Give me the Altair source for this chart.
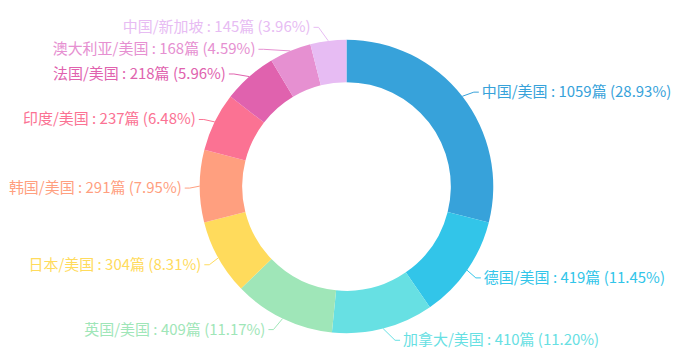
import altair as alt
import pandas as pd

# ---- data ----
names = ["中国/美国", "德国/美国", "加拿大/美国", "英国/美国", "日本/美国",
         "韩国/美国", "印度/美国", "法国/美国", "澳大利亚/美国", "中国/新加坡"]
counts = [1059, 419, 410, 409, 304, 291, 237, 218, 168, 145]
colors = ["#37a2da", "#32c5e9", "#67e0e3", "#9fe6b8", "#ffdb5c",
          "#ff9f7f", "#fb7293", "#e062ae", "#e690d1", "#e7bcf3"]

# ---- layout constants (pixels) ----
W, H = 664, 348
CX, CY = 339, 178.5          # donut centre inside the plot area
R_OUT, R_IN = 147, 104.5
R_A, R_B = 157, 162          # label ellipse
GAP = 22                     # minimum vertical distance between labels
FONT = "Noto Sans CJK SC"
FS = 15

df = pd.DataFrame({"name": names, "value": counts, "idx": list(range(len(names)))})

xs = alt.Scale(domain=[-CX, W - CX])
ys = alt.Scale(domain=[-CY, H - CY], reverse=True)
color = alt.Color("name:N", scale=alt.Scale(domain=names, range=colors), legend=None)

base = alt.Chart(df)

arc = base.mark_arc(innerRadius=R_IN, outerRadius=R_OUT).encode(
    theta=alt.Theta("value:Q", stack=True),
    order=alt.Order("idx:Q"),
    color=color,
    x=alt.XDatum(0, type="quantitative", scale=xs, axis=None),
    y=alt.YDatum(0, type="quantitative", scale=ys, axis=None),
)

lab = (
    base.transform_joinaggregate(total="sum(value)")
    .transform_window(cum="sum(value)", sort=[alt.SortField("idx")], frame=[None, 0])
    .transform_calculate(a="2*PI*(datum.cum - datum.value/2)/datum.total")
    .transform_calculate(pct="format(datum.value/datum.total, '.2%')")
    .transform_calculate(side="sin(datum.a) < 0 ? -1 : 1")
    .transform_calculate(y0=f"-{R_A}*cos(datum.a) + 2")
    .transform_calculate(px1=f"{R_OUT}*sin(datum.a)")
    .transform_calculate(py1=f"-{R_OUT}*cos(datum.a)")
    .transform_calculate(label="datum.name + ' : ' + datum.value + '篇 (' + datum.pct + ')'")
    # push overlapping labels downwards (forward pass)
    .transform_window(rk="row_number()", groupby=["side"], sort=[alt.SortField("y0")])
    .transform_calculate(t=f"datum.y0 - (datum.rk - 1)*{GAP}")
    .transform_window(tmax="max(t)", groupby=["side"], sort=[alt.SortField("y0")], frame=[None, 0])
    .transform_calculate(ydn=f"(datum.rk - 1)*{GAP} + datum.tmax")
    # push overlapping labels upwards (backward pass)
    .transform_window(rb="row_number()", groupby=["side"], sort=[alt.SortField("y0", order="descending")])
    .transform_calculate(u=f"datum.y0 + (datum.rb - 1)*{GAP}")
    .transform_window(umin="min(u)", groupby=["side"], sort=[alt.SortField("y0", order="descending")], frame=[None, 0])
    .transform_calculate(yup=f"datum.umin - (datum.rb - 1)*{GAP}")
    .transform_calculate(ly="(datum.ydn + datum.yup)/2")
    .transform_calculate(dx=f"{R_A}*sqrt(max(0, 1 - datum.ly*datum.ly/({R_B}*{R_B})))")
    .transform_calculate(px2="datum.side*datum.dx")
    .transform_calculate(px3="datum.side*(datum.dx + 5)")
    .transform_calculate(tx="datum.side*(datum.dx + 8)")
)

seg1 = lab.mark_rule(strokeWidth=1).encode(
    x=alt.X("px1:Q", scale=xs, axis=None),
    y=alt.Y("py1:Q", scale=ys, axis=None),
    x2="px2:Q", y2="ly:Q", color=color,
)
seg2 = lab.mark_rule(strokeWidth=1).encode(
    x=alt.X("px2:Q", scale=xs, axis=None),
    y=alt.Y("ly:Q", scale=ys, axis=None),
    x2="px3:Q", y2="ly:Q", color=color,
)
txt_r = lab.transform_filter("datum.side > 0").mark_text(
    align="left", baseline="middle", fontSize=FS, font=FONT
).encode(
    x=alt.X("tx:Q", scale=xs, axis=None),
    y=alt.Y("ly:Q", scale=ys, axis=None),
    text="label:N", color=color,
)
txt_l = lab.transform_filter("datum.side < 0").mark_text(
    align="right", baseline="middle", fontSize=FS, font=FONT
).encode(
    x=alt.X("tx:Q", scale=xs, axis=None),
    y=alt.Y("ly:Q", scale=ys, axis=None),
    text="label:N", color=color,
)

chart = alt.layer(arc, seg1, seg2, txt_l, txt_r).properties(
    width=W, height=H, padding=0
).configure_view(stroke=None)

chart.save("out.html", embed_options={"renderer": "svg", "actions": False})
